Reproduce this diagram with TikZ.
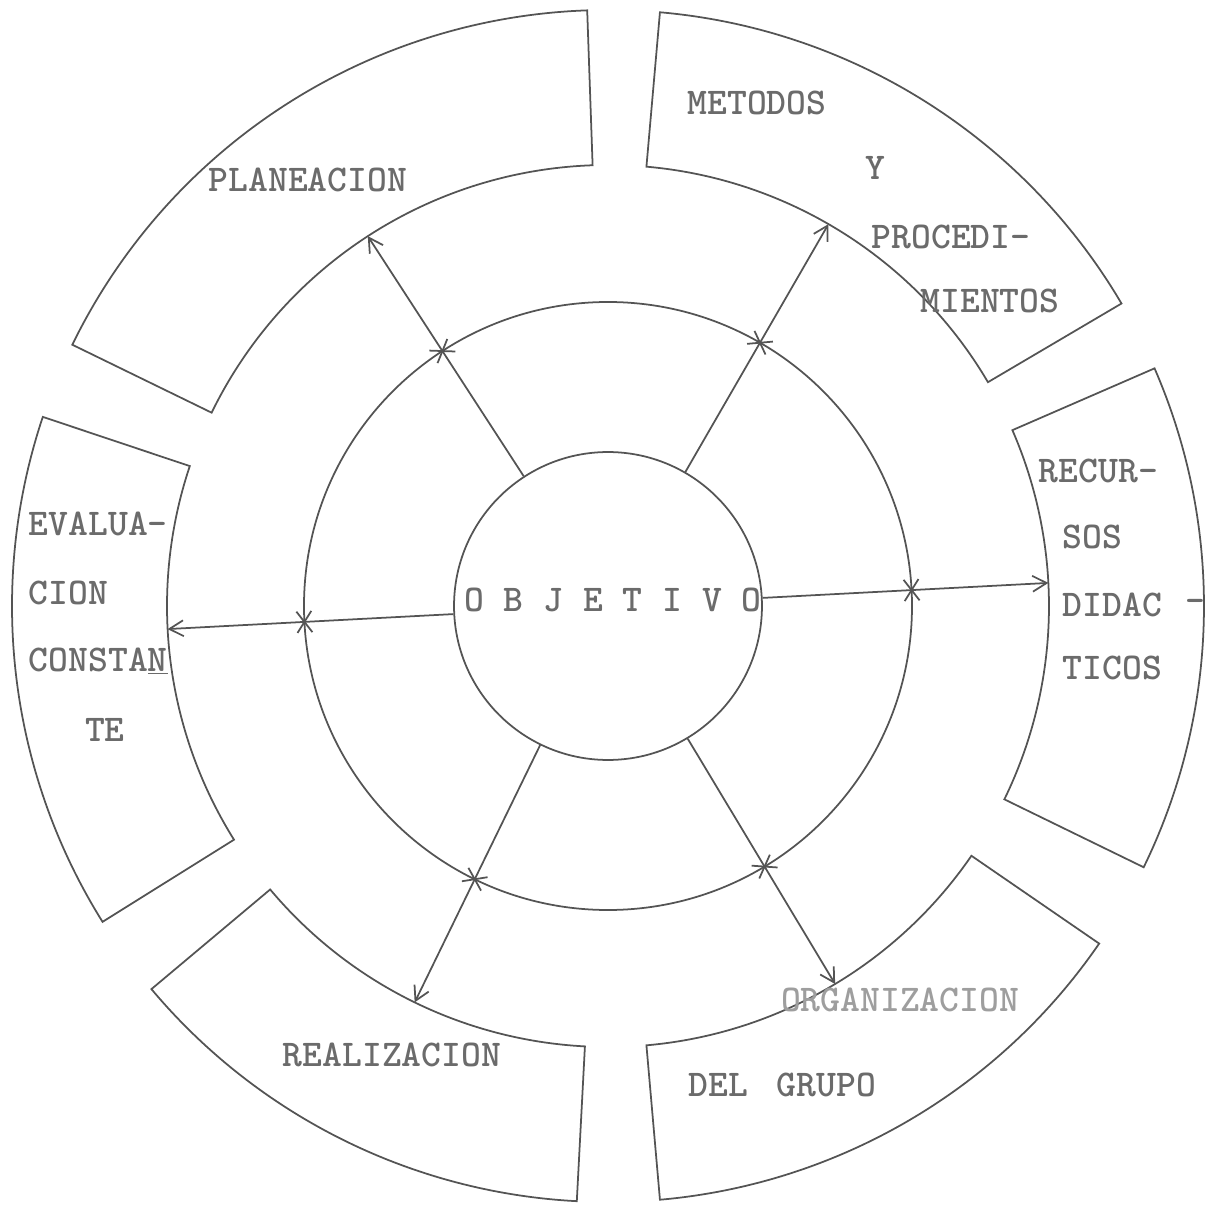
\documentclass[tikz,border=0pt]{standalone}
\usepackage{fontspec}
\usetikzlibrary{arrows.meta}
\definecolor{ink}{gray}{0.33}
\definecolor{typed}{gray}{0.42}
\definecolor{faint}{gray}{0.62}

\begin{document}
\begin{tikzpicture}[x=0.02cm,y=0.02cm,color=ink,line width=1pt,
    >={Straight Barb[length=8pt,width=9pt]},
    txt/.style={font={\fontsize{21.5}{26}\selectfont\ttfamily\bfseries},text=typed,inner sep=0pt}]
  \useasboundingbox (-608,-601) rectangle (596,606);
  \coordinate (c) at (0,0);
    \foreach \from/\to[count=\nn] in {92/154,161.5/212,220/267,275/325.5,334/383.5,30.5/85}{%
        \draw (\from:441) arc[start angle=\from,end angle=\to,radius=441]
          -- (\to:596) arc[start angle=\to,end angle=\from,radius=596] -- cycle;
    }
  \draw (c) circle[radius=304];
  \node[circle,draw,minimum size=6.16cm,inner sep=0pt] (obj) at (c) {};
  \node[txt] (obj-txt) at (5,6) {O B J E T I V O};
    \foreach \a[count=\nn] in {123,60,3,183,244,301}{%
        \coordinate (star-\nn) at (\a:304);
        \coordinate (tip-\nn) at (\a:441);
        \draw[->] (obj.\a) -- (tip-\nn);
        \draw (star-\nn) ++(\a+55:13) -- ++(\a+235:26);
        \draw (star-\nn) ++(\a-55:13) -- ++(\a-235:26);
    }
  \node[txt] (plan) at (-300,426) {PLANEACION};
  \node[txt] (met-1) at (149,503) {METODOS};
  \node[txt] (met-2) at (267,438) {Y};
  \node[txt] (met-3) at (343,369) {PROCEDI-};
  \node[txt] (met-4) at (382,305) {MIENTOS};
  \node[txt,anchor=west] (rec-1) at (430,135) {RECUR-};
  \node[txt,anchor=west] (rec-2) at (454,69) {SOS};
  \node[txt,anchor=west] (rec-3) at (454,1) {DIDAC};
  \node[txt] (rec-dash) at (587,0) {-};
  \node[txt,anchor=west] (rec-4) at (454,-62) {TICOS};
  \node[txt,anchor=west] (eva-1) at (-580,82) {EVALUA-};
  \node[txt,anchor=west] (eva-2) at (-580,13) {CION};
  \node[txt,anchor=base west] (eva-3) at (-580,-65) {CONSTA\underline{N}};
  \node[txt] (eva-4) at (-503,-124) {TE};
  \node[txt] (real) at (-216,-449) {REALIZACION};
  \node[txt,text=faint] (org-1) at (292,-394) {ORGANIZACION};
  \node[txt,anchor=west] (org-2) at (80,-479) {DEL\hspace{0.75em}GRUPO};
\end{tikzpicture}
\end{document}
